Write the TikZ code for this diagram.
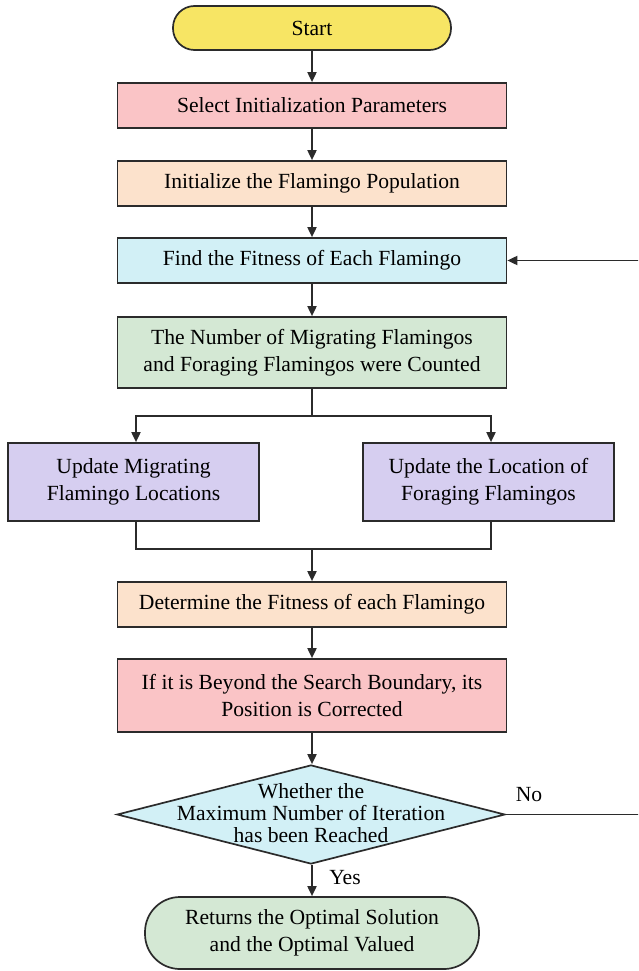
\documentclass[tikz,border=0pt]{standalone}
\usepackage{fontspec}
\setmainfont{Liberation Serif}
\usetikzlibrary{shapes.geometric,arrows.meta}
\definecolor{cline}{HTML}{2B2B2B}
\definecolor{cyell}{HTML}{F7E564}
\definecolor{cpink}{HTML}{FAC4C6}
\definecolor{cpeach}{HTML}{FCE2CC}
\definecolor{cblue}{HTML}{D2F0F6}
\definecolor{cgreen}{HTML}{D4E8D4}
\definecolor{clav}{HTML}{D6CEF0}
\begin{document}
\begin{tikzpicture}[x=1pt,y=-1pt,
  base/.style={draw=cline, line width=1.7pt, align=center, inner sep=0pt, text=black,
               font=\fontsize{21.6}{27}\selectfont},
  box/.style={base, rectangle, minimum width=389pt},
  conn/.style={draw=cline, line width=1.8pt},
  arr/.style={conn, -{Triangle[length=10pt,width=9pt]}},
  lbl/.style={inner sep=0pt, text=black, font=\fontsize{21.6}{27}\selectfont}
]
\useasboundingbox (0,0) rectangle (638,971);
\clip (0,0) rectangle (638,971);
\fill[white] (0,0) rectangle (638,971);

\node[base, fill=cyell, rectangle, rounded corners=21.5pt, minimum width=278pt, minimum height=44pt] (start) at (312,28) {Start};
\node[box, fill=cpink, minimum height=45pt] (sel) at (312,105.5) {Select Initialization Parameters};
\node[box, fill=cpeach, minimum height=45pt] (init) at (312,183.5) {Initialize the Flamingo Population};
\node[box, fill=cblue, minimum height=45pt] (find) at (312,260.5) {Find the Fitness of Each Flamingo};
\node[box, fill=cgreen, minimum height=71pt] (num) at (312,352.5) {The Number of Migrating Flamingos\\and Foraging Flamingos were Counted};
\node[base, fill=clav, rectangle, minimum width=251pt, minimum height=78pt] (upL) at (133.5,482) {Update Migrating\\Flamingo Locations};
\node[base, fill=clav, rectangle, minimum width=251pt, minimum height=78pt] (upR) at (488.5,482) {Update the Location of\\Foraging Flamingos};
\node[box, fill=cpeach, minimum height=45pt] (det) at (312,604.5) {Determine the Fitness of each Flamingo};
\node[box, fill=cpink, minimum height=73pt] (ifb) at (312,695.5) {If it is Beyond the Search Boundary, its\\Position is Corrected};
\node[draw=cline, line width=1.7pt, fill=cblue, diamond, minimum width=388pt, minimum height=99pt, inner sep=0pt] (dia) at (311,814.5) {};
\node[lbl, align=center, font=\fontsize{21.6}{22}\selectfont] (diatext) at (311,813) {Whether the\\Maximum Number of Iteration\\has been Reached};
\node[base, fill=cgreen, rectangle, rounded corners=35pt, minimum width=334pt, minimum height=72pt] (ret) at (312,933) {Returns the Optimal Solution\\and the Optimal Valued};

\node[lbl] (yes) at (345,878) {Yes};
\node[lbl] (no) at (529,795) {No};

\coordinate (j1) at (312,416);
\coordinate (j2) at (312,549);
\coordinate (fb) at (642,814.5);

\draw[arr] (start) -- (sel);
\draw[arr] (sel) -- (init);
\draw[arr] (init) -- (find);
\draw[arr] (find) -- (num);
\draw[conn] (num.south) -- (j1);
\draw[arr] (j1) -| ([xshift=2.5pt]upL.north);
\draw[arr] (j1) -| ([xshift=2.5pt]upR.north);
\draw[conn] ([xshift=2.5pt]upL.south) |- (j2);
\draw[conn] ([xshift=2.5pt]upR.south) |- (j2);
\draw[arr] (j2) -- (det.north);
\draw[arr] (det) -- (ifb);
\draw[arr] (ifb.south) -- (ifb.south |- dia.north);
\draw[arr] (dia.south -| ret.north) -- (ret.north);
\draw[arr] (dia.east) -- (fb) |- (find.east);
\end{tikzpicture}
\end{document}
